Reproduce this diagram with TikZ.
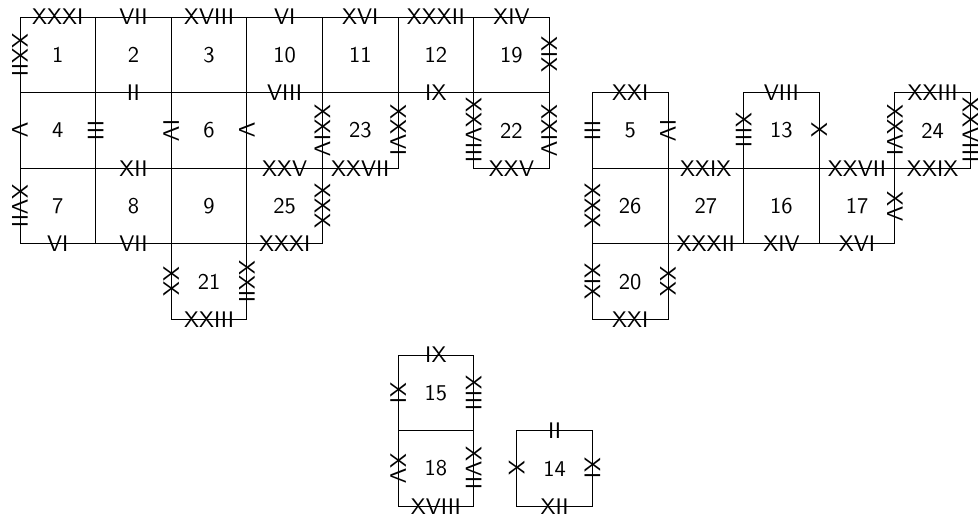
\documentclass[tikz,border=0pt]{standalone}
\usepackage{tikz}
\usetikzlibrary{positioning}

\tikzset{
  face/.style={draw=black,line width=0.4pt},
  facenum/.style={inner sep=0pt},
  elbl/.style={inner sep=0pt},
  vlbl/.style={elbl,rotate=-90}
}

\begin{document}
\begin{tikzpicture}[x=1.18cm,y=1.18cm,font=\sffamily]
\useasboundingbox (-0.265000,-6.627000) rectangle (12.670000,0.225000);
% Drawing faces; left piece
\draw[face] (0.000000,-1.000000) rectangle (1.000000,0.000000);
\draw[face] (1.000000,-1.000000) rectangle (2.000000,0.000000);
\draw[face] (2.000000,-1.000000) rectangle (3.000000,0.000000);
\draw[face] (3.000000,-1.000000) rectangle (4.000000,0.000000);
\draw[face] (4.000000,-1.000000) rectangle (5.000000,0.000000);
\draw[face] (5.000000,-1.000000) rectangle (6.000000,0.000000);
\draw[face] (6.000000,-1.000000) rectangle (7.000000,0.000000);
\draw[face] (0.000000,-2.000000) rectangle (1.000000,-1.000000);
\draw[face] (2.000000,-2.000000) rectangle (3.000000,-1.000000);
\draw[face] (4.000000,-2.000000) rectangle (5.000000,-1.000000);
\draw[face] (6.000000,-2.000000) rectangle (7.000000,-1.000000);
\draw[face] (0.000000,-3.000000) rectangle (1.000000,-2.000000);
\draw[face] (1.000000,-3.000000) rectangle (2.000000,-2.000000);
\draw[face] (2.000000,-3.000000) rectangle (3.000000,-2.000000);
\draw[face] (3.000000,-3.000000) rectangle (4.000000,-2.000000);
\draw[face] (2.000000,-4.000000) rectangle (3.000000,-3.000000);
% Right piece
\draw[face] (7.570000,-2.000000) rectangle (8.570000,-1.000000);
\draw[face] (9.570000,-2.000000) rectangle (10.570000,-1.000000);
\draw[face] (11.570000,-2.000000) rectangle (12.570000,-1.000000);
\draw[face] (7.570000,-3.000000) rectangle (8.570000,-2.000000);
\draw[face] (8.570000,-3.000000) rectangle (9.570000,-2.000000);
\draw[face] (9.570000,-3.000000) rectangle (10.570000,-2.000000);
\draw[face] (10.570000,-3.000000) rectangle (11.570000,-2.000000);
\draw[face] (7.570000,-4.000000) rectangle (8.570000,-3.000000);
% Bottom pieces
\draw[face] (5.000000,-5.470000) rectangle (6.000000,-4.470000);
\draw[face] (5.000000,-6.470000) rectangle (6.000000,-5.470000);
\draw[face] (6.570000,-6.470000) rectangle (7.570000,-5.470000);
% Done with faces; drawing face numbers
\node[facenum] (n1) at (0.500000,-0.500000) {1};
\node[facenum] (n2) at (1.500000,-0.500000) {2};
\node[facenum] (n3) at (2.500000,-0.500000) {3};
\node[facenum] (n10) at (3.500000,-0.500000) {10};
\node[facenum] (n11) at (4.500000,-0.500000) {11};
\node[facenum] (n12) at (5.500000,-0.500000) {12};
\node[facenum] (n19) at (6.500000,-0.500000) {19};
\node[facenum] (n4) at (0.500000,-1.500000) {4};
\node[facenum] (n6) at (2.500000,-1.500000) {6};
\node[facenum] (n23) at (4.500000,-1.500000) {23};
\node[facenum] (n22) at (6.500000,-1.500000) {22};
\node[facenum] (n7) at (0.500000,-2.500000) {7};
\node[facenum] (n8) at (1.500000,-2.500000) {8};
\node[facenum] (n9) at (2.500000,-2.500000) {9};
\node[facenum] (n25) at (3.500000,-2.500000) {25};
\node[facenum] (n21) at (2.500000,-3.500000) {21};
\node[facenum] (n5) at (8.070000,-1.500000) {5};
\node[facenum] (n13) at (10.070000,-1.500000) {13};
\node[facenum] (n24) at (12.070000,-1.500000) {24};
\node[facenum] (n26) at (8.070000,-2.500000) {26};
\node[facenum] (n27) at (9.070000,-2.500000) {27};
\node[facenum] (n16) at (10.070000,-2.500000) {16};
\node[facenum] (n17) at (11.070000,-2.500000) {17};
\node[facenum] (n20) at (8.070000,-3.500000) {20};
\node[facenum] (n15) at (5.500000,-4.970000) {15};
\node[facenum] (n18) at (5.500000,-5.970000) {18};
\node[facenum] (n14) at (7.070000,-5.970000) {14};
% Done with face numbers; drawing edge labels, left piece
\node[elbl] (t1) at (0.500000,0.000000) {XXXI};
\node[elbl] (t2) at (1.500000,0.000000) {VII};
\node[elbl] (t3) at (2.500000,0.000000) {XVIII};
\node[elbl] (t10) at (3.500000,0.000000) {VI};
\node[elbl] (t11) at (4.500000,0.000000) {XVI};
\node[elbl] (t12) at (5.500000,0.000000) {XXXII};
\node[elbl] (t19) at (6.500000,0.000000) {XIV};
\node[elbl] (b2) at (1.500000,-1.000000) {II};
\node[elbl] (b10) at (3.500000,-1.000000) {VIII};
\node[elbl] (b12) at (5.500000,-1.000000) {IX};
\node[elbl] (t8) at (1.500000,-2.000000) {XII};
\node[elbl] (t25) at (3.500000,-2.000000) {XXV};
\node[elbl] (b23) at (4.500000,-2.000000) {XXVII};
\node[elbl] (b22) at (6.500000,-2.000000) {XXV};
\node[elbl] (b7) at (0.500000,-3.000000) {VI};
\node[elbl] (b8) at (1.500000,-3.000000) {VII};
\node[elbl] (b25) at (3.500000,-3.000000) {XXXI};
\node[elbl] (b21) at (2.500000,-4.000000) {XXIII};
\node[vlbl] (l1) at (0.000000,-0.500000) {XXII};
\node[vlbl] (l4) at (0.000000,-1.500000) {V};
\node[vlbl] (l7) at (0.000000,-2.500000) {XVII};
\node[vlbl] (r4) at (1.000000,-1.500000) {III};
\node[vlbl] (l6) at (2.000000,-1.500000) {IV};
\node[vlbl] (l21) at (2.000000,-3.500000) {XX};
\node[vlbl] (r6) at (3.000000,-1.500000) {V};
\node[vlbl] (r21) at (3.000000,-3.500000) {XXII};
\node[vlbl] (l23) at (4.000000,-1.500000) {XXIV};
\node[vlbl] (r25) at (4.000000,-2.500000) {XXX};
\node[vlbl] (r23) at (5.000000,-1.500000) {XXVI};
\node[vlbl] (l22) at (6.000000,-1.500000) {XXVIII};
\node[vlbl] (r19) at (7.000000,-0.500000) {XIX};
\node[vlbl] (r22) at (7.000000,-1.500000) {XXIV};
% Right piece
\node[elbl] (t5) at (8.070000,-1.000000) {XXI};
\node[elbl] (t13) at (10.070000,-1.000000) {VIII};
\node[elbl] (t24) at (12.070000,-1.000000) {XXIII};
\node[elbl] (t27) at (9.070000,-2.000000) {XXIX};
\node[elbl] (t17) at (11.070000,-2.000000) {XXVII};
\node[elbl] (b24) at (12.070000,-2.000000) {XXIX};
\node[elbl] (b27) at (9.070000,-3.000000) {XXXII};
\node[elbl] (b16) at (10.070000,-3.000000) {XIV};
\node[elbl] (b17) at (11.070000,-3.000000) {XVI};
\node[elbl] (b20) at (8.070000,-4.000000) {XXI};
\node[vlbl] (l5) at (7.570000,-1.500000) {III};
\node[vlbl] (l26) at (7.570000,-2.500000) {XXX};
\node[vlbl] (l20) at (7.570000,-3.500000) {XIX};
\node[vlbl] (r5) at (8.570000,-1.500000) {IV};
\node[vlbl] (r20) at (8.570000,-3.500000) {XX};
\node[vlbl] (l13) at (9.570000,-1.500000) {XIII};
\node[vlbl] (r13) at (10.570000,-1.500000) {X};
\node[vlbl] (l24) at (11.570000,-1.500000) {XXVI};
\node[vlbl] (r17) at (11.570000,-2.500000) {XV};
\node[vlbl] (r24) at (12.570000,-1.500000) {XXVIII};
% Bottom pieces
\node[elbl] (t15) at (5.500000,-4.470000) {IX};
\node[vlbl] (l15) at (5.000000,-4.970000) {XI};
\node[vlbl] (r15) at (6.000000,-4.970000) {XIII};
\node[vlbl] (l18) at (5.000000,-5.970000) {XV};
\node[vlbl] (r18) at (6.000000,-5.970000) {XVII};
\node[elbl] (b18) at (5.500000,-6.470000) {XVIII};
\node[elbl] (t14) at (7.070000,-5.470000) {II};
\node[vlbl] (l14) at (6.570000,-5.970000) {X};
\node[vlbl] (r14) at (7.570000,-5.970000) {XI};
\node[elbl] (b14) at (7.070000,-6.470000) {XII};
% Done with labels
\end{tikzpicture}
\end{document}
